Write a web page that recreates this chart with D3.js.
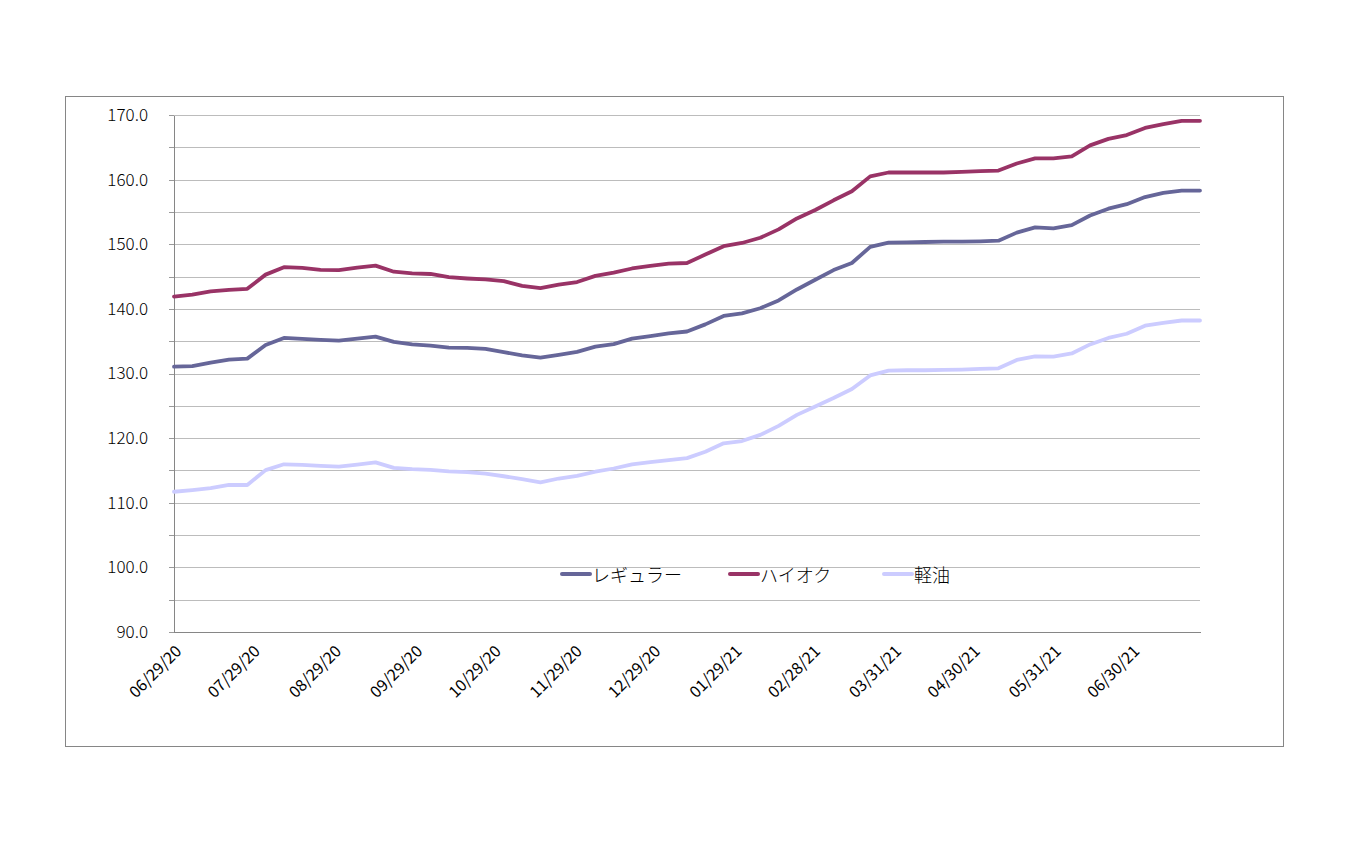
<!DOCTYPE html>
<html>
<head>
<meta charset="utf-8">
<script src="https://cdn.jsdelivr.net/npm/d3@7"></script>
<style>
  html, body { margin: 0; padding: 0; background: #ffffff; }
  svg { display: block; }
</style>
</head>
<body>
<svg id="chart" width="1350" height="844"></svg>
<script>
// ---------- data ----------
const dates = [
  "2020-06-29","2020-07-06","2020-07-13","2020-07-20","2020-07-27","2020-08-03","2020-08-10","2020-08-17","2020-08-24","2020-08-31",
  "2020-09-07","2020-09-14","2020-09-21","2020-09-28","2020-10-05","2020-10-12","2020-10-19","2020-10-26","2020-11-02","2020-11-09",
  "2020-11-16","2020-11-23","2020-11-30","2020-12-07","2020-12-14","2020-12-21","2020-12-28","2021-01-04","2021-01-11","2021-01-18",
  "2021-01-25","2021-02-01","2021-02-08","2021-02-15","2021-02-22","2021-03-01","2021-03-08","2021-03-15","2021-03-22","2021-03-29",
  "2021-04-05","2021-04-12","2021-04-19","2021-04-26","2021-05-03","2021-05-10","2021-05-17","2021-05-24","2021-05-31","2021-06-07",
  "2021-06-14","2021-06-21","2021-06-28","2021-07-05","2021-07-12","2021-07-19","2021-07-26"
];
const regular = [
  131.05,131.15,131.7,132.15,132.3,134.4,135.5,135.35,135.2,135.1,
  135.4,135.7,134.9,134.5,134.3,134.0,133.95,133.8,133.3,132.8,
  132.45,132.9,133.35,134.15,134.55,135.4,135.8,136.2,136.5,137.6,
  138.9,139.3,140.1,141.3,143.0,144.5,146.0,147.1,149.6,150.25,
  150.3,150.35,150.4,150.4,150.45,150.55,151.8,152.6,152.45,152.95,
  154.45,155.5,156.2,157.3,157.95,158.3,158.3
];
const highOctane = [
  141.9,142.2,142.7,142.95,143.1,145.3,146.45,146.35,146.05,146.0,
  146.4,146.7,145.75,145.5,145.4,144.9,144.7,144.55,144.3,143.55,
  143.2,143.75,144.15,145.1,145.6,146.25,146.65,147.0,147.1,148.4,
  149.7,150.2,151.0,152.3,154.0,155.3,156.8,158.2,160.5,161.1,
  161.1,161.1,161.1,161.2,161.3,161.4,162.5,163.3,163.3,163.6,
  165.3,166.3,166.9,168.0,168.6,169.1,169.1
];
const diesel = [
  111.7,111.97,112.25,112.75,112.75,115.05,115.95,115.85,115.7,115.6,
  115.9,116.25,115.4,115.2,115.1,114.85,114.75,114.5,114.1,113.65,
  113.15,113.75,114.15,114.8,115.3,115.95,116.3,116.6,116.9,117.9,
  119.2,119.55,120.5,121.9,123.6,124.9,126.2,127.6,129.7,130.45,
  130.5,130.5,130.55,130.6,130.7,130.8,132.1,132.65,132.6,133.1,
  134.5,135.5,136.15,137.4,137.85,138.2,138.2
];
const seriesNames = ["レギュラー", "ハイオク", "軽油"];
const tickDates = ["2020-06-29","2020-07-29","2020-08-29","2020-09-29","2020-10-29","2020-11-29","2020-12-29",
                   "2021-01-29","2021-02-28","2021-03-31","2021-04-30","2021-05-31","2021-06-30"];
const tickLabels = ["06/29/20","07/29/20","08/29/20","09/29/20","10/29/20","11/29/20","12/29/20",
                    "01/29/21","02/28/21","03/31/21","04/30/21","05/31/21","06/30/21"];
const yTicks = [90,100,110,120,130,140,150,160,170];
const yGrid = [90,95,100,105,110,115,120,125,130,135,140,145,150,155,160,165,170];

// ---------- setup ----------
const parse = d3.utcParse("%Y-%m-%d");
const colors = ["#666699", "#993366", "#ccccff"];
const seriesValues = [regular, highOctane, diesel];
const font = "'Noto Sans CJK JP', 'Noto Sans', sans-serif";

const svg = d3.select("#chart");
const plot = { left: 174, right: 1200, top: 115, bottom: 632 };

const x = d3.scaleUtc()
  .domain([parse(dates[0]), parse(dates[dates.length - 1])])
  .range([plot.left, plot.right]);
const y = d3.scaleLinear().domain([90, 170]).range([plot.bottom, plot.top]);

// outer border
svg.append("rect")
  .attr("x", 65.5).attr("y", 96.5).attr("width", 1218).attr("height", 650)
  .attr("fill", "none").attr("stroke", "#868686").attr("stroke-width", 1);

// gridlines + outward ticks
const gridG = svg.append("g").attr("transform", `translate(${plot.left},0)`);
gridG.call(d3.axisLeft(y).tickValues(yGrid).tickSize(-(plot.right - plot.left)).tickFormat(""))
  .call(g => g.select(".domain").remove())
  .call(g => g.selectAll(".tick line").attr("stroke", "#bcbcbc").attr("stroke-width", 1).attr("shape-rendering", "crispEdges"));
gridG.selectAll(".tick").append("line")
  .attr("x1", -5).attr("x2", 0).attr("stroke", "#9a9a9a").attr("shape-rendering", "crispEdges");

// y axis labels
const yAxisG = svg.append("g").attr("transform", `translate(${plot.left},0)`);
yAxisG.call(d3.axisLeft(y).tickValues(yTicks).tickSize(0).tickPadding(26).tickFormat(d3.format(".1f")))
  .call(g => g.select(".domain").attr("stroke", "#868686").attr("shape-rendering", "crispEdges"))
  .call(g => g.selectAll("text").attr("font-family", font).attr("font-size", 17)
    .attr("font-weight", 300).attr("fill", "#000"));

// x axis
const xAxisG = svg.append("g").attr("transform", `translate(0,${plot.bottom})`);
xAxisG.call(d3.axisBottom(x).tickValues(tickDates.map(parse)).tickSize(0)
    .tickFormat((d, i) => tickLabels[i]))
  .call(g => g.select(".domain").attr("stroke", "#868686").attr("shape-rendering", "crispEdges"))
  .call(g => g.selectAll("text")
    .attr("font-family", font).attr("font-size", 16).attr("fill", "#000")
    .attr("text-anchor", "end")
    .attr("dy", 0)
    .attr("transform", "translate(6,18) rotate(-45)"));

// lines
const line = d3.line()
  .x((d, i) => x(parse(dates[i])))
  .y(d => y(d));
seriesValues.forEach((vals, k) => {
  svg.append("path")
    .datum(vals)
    .attr("d", line)
    .attr("fill", "none")
    .attr("stroke", colors[k])
    .attr("stroke-width", 3.8)
    .attr("stroke-linejoin", "round")
    .attr("stroke-linecap", "round");
});

// legend
const legendX = [562, 730, 884];
const legendY = 574;
const lg = svg.append("g");
seriesNames.forEach((name, k) => {
  lg.append("line")
    .attr("x1", legendX[k]).attr("x2", legendX[k] + 28)
    .attr("y1", legendY).attr("y2", legendY)
    .attr("stroke", colors[k]).attr("stroke-width", 4).attr("stroke-linecap", "round");
  lg.append("text")
    .attr("x", legendX[k] + 30).attr("y", legendY)
    .attr("dominant-baseline", "central")
    .attr("font-family", font).attr("font-size", 18).attr("font-weight", 300).attr("fill", "#000")
    .text(name);
});
</script>
</body>
</html>
